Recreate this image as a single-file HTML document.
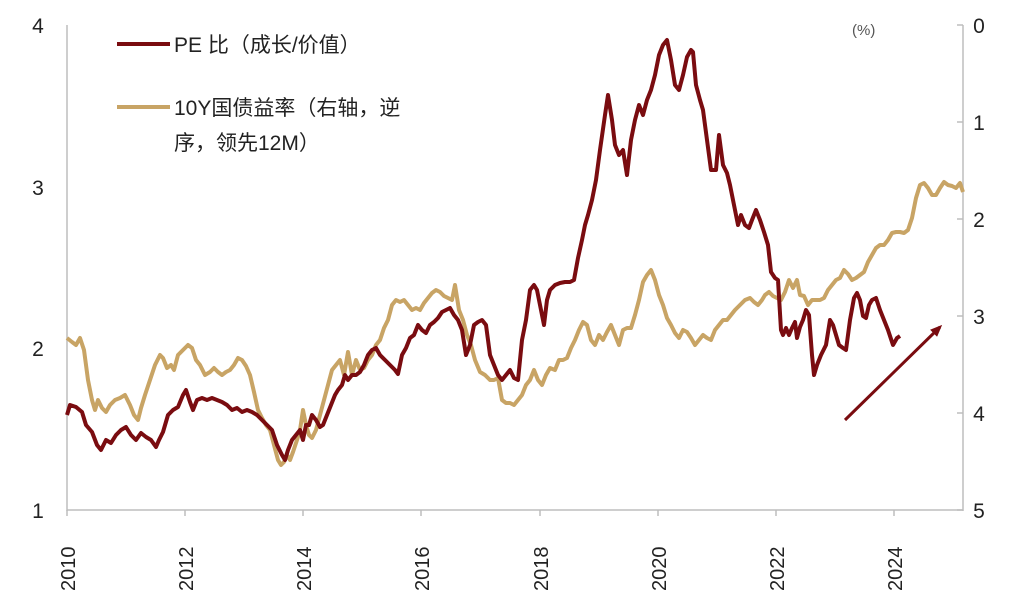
<!DOCTYPE html>
<html><head><meta charset="utf-8"><style>
body{margin:0;background:#fff;}
svg{display:block;font-family:"Liberation Sans","Noto Sans CJK SC",sans-serif;}
</style></head><body>
<svg width="1024" height="597" viewBox="0 0 1024 597" xmlns="http://www.w3.org/2000/svg">
<defs><marker id="ah" markerWidth="12" markerHeight="10" refX="9" refY="5" orient="auto" markerUnits="userSpaceOnUse"><path d="M0,0 L12,5 L0,10 Z" fill="#7a0c10"/></marker></defs>
<g stroke="#bdbdbd" stroke-width="1.5" fill="none">
<line x1="67" y1="25" x2="67" y2="511"/>
<line x1="67" y1="510" x2="963" y2="510"/>
<line x1="963" y1="25" x2="963" y2="511"/>
<line x1="957" y1="25" x2="963" y2="25"/><line x1="957" y1="122" x2="963" y2="122"/><line x1="957" y1="219" x2="963" y2="219"/><line x1="957" y1="316" x2="963" y2="316"/><line x1="957" y1="413" x2="963" y2="413"/><line x1="957" y1="510" x2="963" y2="510"/>
<line x1="67" y1="510" x2="67" y2="516"/><line x1="185" y1="510" x2="185" y2="516"/><line x1="303" y1="510" x2="303" y2="516"/><line x1="421" y1="510" x2="421" y2="516"/><line x1="540" y1="510" x2="540" y2="516"/><line x1="658" y1="510" x2="658" y2="516"/><line x1="776" y1="510" x2="776" y2="516"/><line x1="894" y1="510" x2="894" y2="516"/>
</g>
<g font-size="21" fill="#222" text-anchor="middle">
<text x="38" y="33">4</text><text x="38" y="195">3</text><text x="38" y="356">2</text><text x="38" y="518">1</text>
<text x="979" y="33">0</text><text x="979" y="130">1</text><text x="979" y="227">2</text><text x="979" y="324">3</text><text x="979" y="421">4</text><text x="979" y="518">5</text>
</g>
<g font-size="20" fill="#222">
<text transform="translate(75,591) rotate(-90)">2010</text>
<text transform="translate(193,591) rotate(-90)">2012</text>
<text transform="translate(311,591) rotate(-90)">2014</text>
<text transform="translate(429,591) rotate(-90)">2016</text>
<text transform="translate(548,591) rotate(-90)">2018</text>
<text transform="translate(666,591) rotate(-90)">2020</text>
<text transform="translate(784,591) rotate(-90)">2022</text>
<text transform="translate(902,591) rotate(-90)">2024</text>
</g>
<text x="852" y="35" font-size="15" fill="#555">(%)</text>
<line x1="117" y1="44" x2="170" y2="44" stroke="#7a0c10" stroke-width="4"/>
<text x="174" y="52" font-size="21" fill="#222">PE 比（成长/价值）</text>
<line x1="117" y1="107" x2="170" y2="107" stroke="#c8a465" stroke-width="4"/>
<text x="174" y="115" font-size="21" fill="#222">10Y国债益率（右轴，逆</text>
<text x="174" y="150" font-size="21" fill="#222">序，领先12M）</text>
<polyline fill="none" stroke="#c8a465" stroke-width="4" stroke-linejoin="round" points="67,338 72,342 76,345 80,338 84,350 88,380 92,400 95,410 98,400 102,408 106,412 110,405 115,400 120,398 125,395 130,405 134,415 138,420 141,408 145,395 150,380 155,365 160,355 163,358 167,368 171,365 174,370 178,355 183,350 188,345 192,348 196,360 200,365 205,375 210,372 214,368 218,372 222,375 226,372 230,370 234,365 238,358 242,360 246,366 250,375 254,392 258,410 262,418 266,425 270,430 274,445 278,460 281,465 284,462 287,455 290,460 293,452 297,440 300,430 303,410 306,425 309,435 312,438 316,430 320,415 324,400 328,385 332,370 336,365 340,360 344,375 348,352 352,375 356,360 360,370 364,368 368,360 372,355 376,345 380,340 384,328 388,320 392,305 396,300 400,302 404,300 408,305 412,310 416,308 420,310 424,303 428,298 432,293 436,290 440,292 444,296 448,298 452,300 455,285 459,310 463,320 467,335 471,345 475,360 480,372 485,375 490,380 494,380 498,378 502,400 506,403 510,403 514,405 518,400 522,395 526,385 530,380 534,370 538,380 542,385 546,375 550,368 555,370 559,360 563,360 567,358 571,348 575,340 579,330 583,322 587,325 591,340 595,345 599,335 603,340 607,332 611,325 615,335 619,345 623,330 627,328 631,328 635,315 639,300 643,282 647,275 651,270 655,280 659,295 663,305 667,318 671,325 675,333 679,338 683,330 687,332 691,338 695,345 699,340 703,335 707,338 711,340 715,330 719,325 723,320 727,320 731,315 735,310 740,305 745,300 750,298 754,302 758,305 762,300 765,295 769,292 773,296 777,298 781,300 785,292 789,280 793,288 797,280 800,295 804,296 808,305 812,300 816,300 820,300 824,298 828,290 832,285 836,280 840,278 844,270 848,274 852,280 856,278 860,275 864,272 868,262 872,255 876,248 880,245 884,245 888,240 892,233 896,232 900,232 904,233 908,230 912,218 916,198 920,185 924,183 928,188 932,195 936,195 940,188 944,182 948,185 952,186 956,188 960,183 963,192"/>
<polyline fill="none" stroke="#7a0c10" stroke-width="4" stroke-linejoin="round" points="67,415 70,405 76,407 82,412 86,425 92,432 97,445 101,450 106,440 111,443 116,435 121,430 126,427 131,435 136,440 141,433 146,437 151,440 156,447 159,440 163,432 168,415 173,410 178,407 183,395 186,390 190,402 193,410 197,400 202,398 207,400 212,398 217,400 222,402 227,405 232,410 237,408 242,412 247,410 252,412 257,415 262,420 267,425 272,430 277,445 282,455 285,460 288,450 292,440 296,435 300,430 303,440 306,425 309,425 312,415 316,420 320,427 323,425 327,415 331,405 335,395 338,390 342,385 345,375 348,380 352,375 356,375 360,372 364,365 368,355 372,350 376,348 380,355 385,360 390,365 395,370 398,374 402,355 406,348 410,338 414,335 418,325 422,330 426,333 430,325 434,322 438,318 442,312 446,310 450,308 454,315 458,320 462,330 466,355 470,345 474,325 478,322 482,320 486,325 490,355 494,365 498,375 502,380 506,375 510,370 514,378 518,380 522,340 526,320 530,290 534,285 537,290 541,310 544,325 547,300 550,290 555,285 560,283 565,282 570,282 574,280 578,258 582,240 585,225 588,215 592,200 596,180 600,150 605,115 608,95 612,120 615,145 619,155 623,150 627,175 631,140 635,120 639,105 643,115 647,100 651,90 655,75 659,55 663,45 667,40 671,60 675,85 679,90 683,75 687,57 691,50 693,52 696,85 700,100 703,110 707,140 711,170 716,170 719,135 723,165 727,173 730,185 734,205 738,225 741,215 745,225 749,228 752,220 756,210 760,220 764,232 768,245 771,272 775,278 778,280 781,330 783,335 786,328 789,335 792,328 795,322 797,338 800,327 803,320 806,310 809,315 812,355 814,375 817,365 821,355 826,345 830,320 833,325 836,335 839,345 843,348 846,350 850,320 854,298 857,293 860,300 863,316 866,318 869,305 872,300 876,298 880,310 884,320 888,330 893,345 897,338 900,336"/>
<line x1="845" y1="420" x2="940" y2="327" stroke="#7a0c10" stroke-width="3" marker-end="url(#ah)"/>
</svg>
</body></html>
